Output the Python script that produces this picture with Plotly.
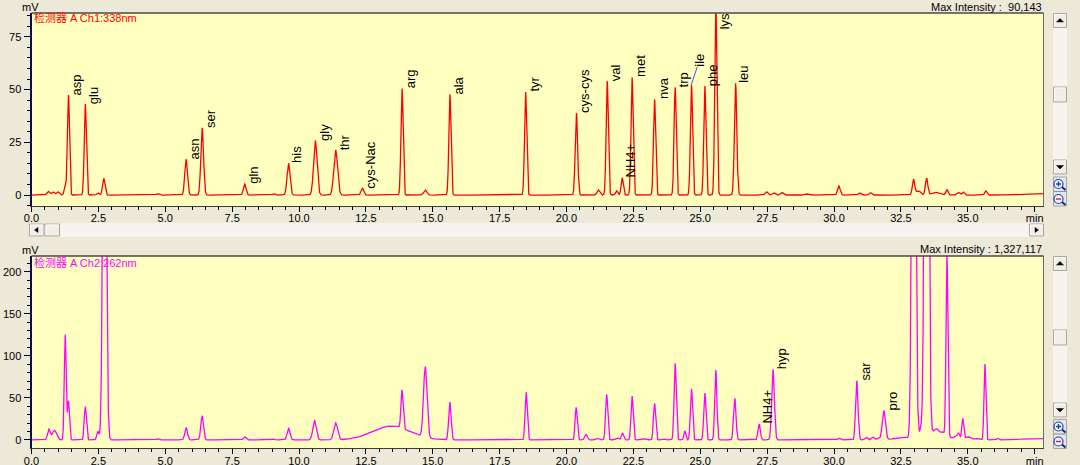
import numpy as np
import plotly.graph_objects as go

# ---------------- data ----------------
# Channel 1 : 338 nm  (retention time [min], height [mV], peak sigma [min], name)
ch1_rt = [0.62, 0.80, 0.98, 1.26, 1.38, 2.01, 2.48, 2.70, 4.72, 5.78, 6.38, 7.97, 9.05,
          9.61, 10.61, 11.37, 12.37, 13.85, 14.72, 15.64, 18.47, 20.37, 21.19, 21.52,
          21.87, 22.08, 22.45, 23.29, 24.06, 24.67, 25.17, 25.58, 26.32, 27.47, 27.75,
          28.05, 29.0, 30.18, 30.95, 31.35, 32.97, 33.15, 33.46, 33.8, 34.22, 34.65,
          34.83, 35.67, 37.6]
ch1_height = [1.8, 1.5, 1.6, 3.8, 47.4, 43.2, 1.0, 7.9, 0.6, 16.9, 31.9, 5.2, 0.6,
              15.0, 25.8, 21.3, 3.2, 50.6, 2.4, 47.8, 48.9, 38.9, 2.4, 54.0,
              2.0, 8.2, 55.8, 45.5, 51.1, 52.5, 51.7, 90.1, 53.0, 1.6, 1.0,
              1.2, 0.5, 4.3, 1.0, 1.2, 7.4, 2.0, 7.9, 1.3, 2.5, 1.2,
              1.5, 2.0, 0.8]
ch1_width = [0.05, 0.05, 0.05, 0.04, 0.038, 0.04, 0.04, 0.045, 0.05, 0.05, 0.05, 0.05, 0.05,
             0.055, 0.065, 0.07, 0.05, 0.04, 0.06, 0.04, 0.04, 0.045, 0.05, 0.04,
             0.04, 0.04, 0.04, 0.04, 0.04, 0.04, 0.04, 0.04, 0.045, 0.05, 0.05,
             0.05, 0.08, 0.05, 0.05, 0.05, 0.045, 0.08, 0.045, 0.15, 0.04, 0.05,
             0.04, 0.04, 0.5]
ch1_label = ["", "", "", "", "asp", "glu", "", "", "", "asn", "ser", "gln", "",
             "his", "gly", "thr", "cys-Nac", "arg", "", "ala", "tyr", "cys-cys", "", "val",
             "", "NH4+", "met", "nva", "trp", "ile", "phe", "lys", "leu", "", "",
             "", "", "", "", "", "", "", "", "", "", "",
             "", "", ""]

# Channel 2 : 262 nm
ch2_rt = [0.65, 0.86, 1.26, 1.38, 2.01, 2.48, 2.73, 4.72, 5.78, 6.38, 7.97, 9.05, 9.61,
          10.58, 11.37, 13.45, 13.85, 14.72, 15.64, 18.49, 20.36, 20.73, 21.15, 21.50,
          21.9, 22.09, 22.45, 22.9, 23.29, 23.6, 24.06, 24.42, 24.67, 25.17, 25.58,
          26.29, 27.2, 27.72, 30.18, 30.85, 31.2, 31.45, 31.65, 31.86, 32.45, 32.98,
          33.27, 33.46, 33.65, 33.83, 34.05, 34.22, 34.55, 34.66, 34.81, 35.0, 35.3,
          35.64, 36.11, 37.6]
ch2_height = [12.7, 11.5, 125.0, 46.3, 39.6, 10.3, 600.0, 1.5, 14.7, 28.5, 4.0, 1.0, 13.9,
              23.0, 20.2, 16.5, 45.5, 84.0, 44.8, 56.7, 38.8, 6.7, 2.0, 54.3,
              2.5, 8.0, 52.3, 1.5, 43.6, 1.5, 91.1, 10.7, 61.0, 55.9, 83.0,
              49.5, 19.0, 84.0, 2.0, 70.5, 3.0, 3.5, 2.5, 34.8, 2.5, 900.0,
              9.0, 1327.0, 10.0, 4.0, 3.0, 216.0, 4.0, 7.0, 25.0, 4.0, 2.0,
              90.3, 2.0, 2.0]
ch2_width = [0.05, 0.08, 0.035, 0.035, 0.04, 0.04, 0.06, 0.04, 0.05, 0.05, 0.05, 0.05, 0.055,
             0.065, 0.07, 0.7, 0.04, 0.065, 0.045, 0.04, 0.04, 0.05, 0.05, 0.04,
             0.05, 0.04, 0.04, 0.06, 0.04, 0.06, 0.04, 0.035, 0.04, 0.04, 0.04,
             0.045, 0.045, 0.05, 0.05, 0.045, 0.05, 0.05, 0.05, 0.06, 0.25, 0.06,
             0.05, 0.06, 0.45, 0.06, 0.06, 0.035, 0.05, 0.04, 0.035, 0.08, 0.1,
             0.035, 0.04, 0.5]
ch2_label = ["", "", "", "", "", "", "", "", "", "", "", "", "",
             "", "", "", "", "", "", "", "", "", "", "",
             "", "", "", "", "", "", "", "", "", "", "",
             "", "NH4+", "hyp", "", "sar", "", "", "", "pro", "", "",
             "", "", "", "", "", "", "", "", "", "", "",
             "", "", ""]

x_tick_vals = [0, 2.5, 5, 7.5, 10, 12.5, 15, 17.5, 20, 22.5, 25, 27.5, 30, 32.5, 35, 37.5]
x_tick_text = ["0.0", "2.5", "5.0", "7.5", "10.0", "12.5", "15.0", "17.5", "20.0",
               "22.5", "25.0", "27.5", "30.0", "32.5", "35.0", "min"]
y1_tick_vals = [0, 25, 50, 75]
y2_tick_vals = [0, 50, 100, 150, 200]

ch1_title = "检测器 A Ch1:338nm"
ch2_title = "检测器 A Ch2:262nm"
ch1_max = "Max Intensity :\u00a0\u00a090,143"
ch2_max = "Max Intensity : 1,327,117"

# ---------------- build ----------------
W, H = 1080, 465
FONT = "Liberation Sans, Arial, Noto Sans CJK SC, sans-serif"
RED = "#FF0000"
MAG = "#FF00FF"
BG = "#ECE9D8"
PLOT_BG = "#FFFFC0"

X_RANGE = [0.0, 37.83]
Y1_RANGE = [-5.2, 86.3]
Y2_RANGE = [-9.9, 218.6]

t = np.arange(0.0, 37.9, 0.004)


def chromatogram(rts, hs, ws):
    y = np.zeros_like(t)
    for r, h, w in zip(rts, hs, ws):
        y += h * np.exp(-0.5 * ((t - r) / w) ** 2)
    return y


def px(x):
    return x / W


def py(y):
    return 1 - y / H


fig = go.Figure()
fig.add_trace(go.Scatter(x=t, y=chromatogram(ch1_rt, ch1_height, ch1_width), mode="lines",
                         line=dict(color=RED, width=1.3), xaxis="x", yaxis="y",
                         hoverinfo="skip", showlegend=False))
fig.add_trace(go.Scatter(x=t, y=chromatogram(ch2_rt, ch2_height, ch2_width), mode="lines",
                         line=dict(color=MAG, width=1.3), xaxis="x2", yaxis="y2",
                         hoverinfo="skip", showlegend=False))

xdom = [px(31.5), px(1043.5)]
y1dom = [py(206), py(13)]
y2dom = [py(448.3), py(256)]

xcommon = dict(domain=xdom, range=X_RANGE, tickmode="array", tickvals=x_tick_vals,
               ticktext=x_tick_text, ticks="outside", ticklen=5, tickcolor="#000",
               minor=dict(ticks="outside", ticklen=3, tick0=0, dtick=0.5, tickcolor="#000"),
               showline=True, linecolor="#3A3A3A", linewidth=1, showgrid=False,
               zeroline=False, tickfont=dict(size=11, color="#000", family=FONT),
               ticklabelstandoff=-3, fixedrange=True, automargin=False)
ycommon = dict(tickmode="array", ticks="outside", ticklen=6, tickcolor="#000",
               showline=True, linecolor="#0B0B55", linewidth=2, showgrid=False,
               zeroline=False, tickfont=dict(size=11, color="#000", family=FONT),
               fixedrange=True, automargin=False)
fig.update_layout(
    xaxis=dict(anchor="y", **xcommon),
    xaxis2=dict(anchor="y2", **xcommon),
    yaxis=dict(domain=y1dom, range=Y1_RANGE, tickvals=y1_tick_vals, anchor="x",
               minor=dict(ticks="outside", ticklen=3, tick0=0, dtick=5, tickcolor="#000"),
               **ycommon),
    yaxis2=dict(domain=y2dom, range=Y2_RANGE, tickvals=y2_tick_vals, anchor="x2",
                minor=dict(ticks="outside", ticklen=3, tick0=0, dtick=10, tickcolor="#000"),
                **ycommon),
)

annotations = []


def add_labels(rts, hs, labels, xref, yref, yrange):
    for r, h, lab in zip(rts, hs, labels):
        if not lab:
            continue
        a = dict(text=lab, x=r, xref=xref, yref=yref, textangle=-90, showarrow=False,
                 font=dict(size=13, color="#000", family=FONT),
                 borderpad=0, borderwidth=0)
        if h >= yrange[1]:
            a.update(y=yrange[1], xanchor="left", yanchor="top", xshift=1)
        elif lab == "ile":
            a.update(y=h, showarrow=True, ax=8, ay=-24, arrowhead=0,
                     arrowwidth=1, arrowcolor="#4A4AFF", standoff=0, startstandoff=0,
                     xanchor="center", yanchor="middle")
        else:
            a.update(y=h, xanchor="left", yanchor="bottom", xshift=1)
        annotations.append(a)


add_labels(ch1_rt, ch1_height, ch1_label, "x", "y", Y1_RANGE)
add_labels(ch2_rt, ch2_height, ch2_label, "x2", "y2", Y2_RANGE)

small = dict(size=11, color="#000", family=FONT)
annotations += [
    dict(text="mV", x=px(30), y=py(7), xref="paper", yref="paper", showarrow=False,
         xanchor="center", yanchor="middle", font=small),
    dict(text="mV", x=px(30), y=py(250), xref="paper", yref="paper", showarrow=False,
         xanchor="center", yanchor="middle", font=small),
    dict(text=ch1_max, x=px(1044), y=py(6.5), xref="paper", yref="paper", showarrow=False,
         xanchor="right", yanchor="middle", font=small),
    dict(text=ch2_max, x=px(1044), y=py(249), xref="paper", yref="paper", showarrow=False,
         xanchor="right", yanchor="middle", font=small),
    dict(text=ch1_title, x=px(32), y=py(18), xref="paper", yref="paper", showarrow=False,
         xanchor="left", yanchor="middle", font=dict(size=11, color=RED, family=FONT)),
    dict(text=ch2_title, x=px(32), y=py(262), xref="paper", yref="paper", showarrow=False,
         xanchor="left", yanchor="middle", font=dict(size=11, color=MAG, family=FONT)),
]

# ---------------- decoration (borders, scrollbars, zoom icons) ----------------
shapes = []


def rect(x0, y0, x1, y1, fill, line=None, lw=1, layer="above"):
    shapes.append(dict(type="rect", xref="paper", yref="paper", x0=px(x0), x1=px(x1),
                       y0=py(y1), y1=py(y0), fillcolor=fill,
                       line=dict(color=line or fill, width=lw if line else 0), layer=layer))


def seg(x0, y0, x1, y1, color, lw=1):
    shapes.append(dict(type="line", xref="paper", yref="paper", x0=px(x0), x1=px(x1),
                       y0=py(y0), y1=py(y1), line=dict(color=color, width=lw), layer="above"))


def tri(pts, color="#000"):
    d = "M " + " L ".join(f"{px(a):.5f},{py(b):.5f}" for a, b in pts) + " Z"
    shapes.append(dict(type="path", xref="paper", yref="paper", path=d, fillcolor=color,
                       line=dict(color=color, width=0.5), layer="above"))


def button(x0, y0, x1, y1):
    rect(x0, y0, x1, y1, "#EFEEE8", "#A9A79B")
    seg(x0 + 1, y0 + 1, x1 - 1, y0 + 1, "#FFFFFF")
    seg(x0 + 1, y0 + 1, x0 + 1, y1 - 1, "#FFFFFF")


def circle(cx, cy, r, line, fill):
    shapes.append(dict(type="circle", xref="paper", yref="paper", x0=px(cx - r), x1=px(cx + r),
                       y0=py(cy + r), y1=py(cy - r), fillcolor=fill,
                       line=dict(color=line, width=1.2), layer="above"))


# plot borders (top & right)
for top, bottom in [(13, 206), (256, 448.3)]:
    seg(31.5, top, 1043.5, top, "#4A4A4A", 1.5)
    seg(1043.5, top, 1043.5, bottom, "#6A6A6A", 1)

# horizontal scrollbar of the upper chart
rect(29.5, 223, 1043.5, 237, "#F5F4EF")
button(29.5, 224, 44, 236)
tri([(34.5, 230), (38, 227.5), (38, 232.5)])
button(45, 224, 59.5, 236)
button(1029.5, 224, 1043.5, 236)
tri([(1038.5, 230), (1035, 227.5), (1035, 232.5)])

# vertical scrollbars + zoom icons
for (top, thumb, down, plus_c, minus_c) in [(13.5, 87, 160, 184, 199),
                                            (256.5, 330, 403, 426.5, 441.5)]:
    rect(1053, top, 1067, down + 14, "#F5F4EF")
    button(1053.5, top, 1066.5, top + 14)
    tri([(1060, top + 5), (1063.5, top + 8.5), (1056.5, top + 8.5)])
    button(1053.5, thumb, 1066.5, thumb + 15)
    button(1053.5, down, 1066.5, down + 14)
    tri([(1060, down + 9), (1063.5, down + 5.5), (1056.5, down + 5.5)])
    rect(1053.5, plus_c - 7, 1066.5, minus_c + 7, "#E4E6EE", "#A9A79B")
    seg(1053.5, (plus_c + minus_c) / 2, 1066.5, (plus_c + minus_c) / 2, "#8C8C9C")
    for cy, sym_col, plus in [(plus_c, "#1E3FA8", True), (minus_c, "#D02020", False)]:
        seg(1062, cy + 3, 1065.5, cy + 6, "#1A2A6A", 2)
        circle(1058.5, cy, 4.5, "#2444A8", "#EEF3FF")
        seg(1056, cy, 1061, cy, sym_col, 1.4)
        if plus:
            seg(1058.5, cy - 2.5, 1058.5, cy + 2.5, sym_col, 1.4)

fig.update_layout(
    width=W, height=H, margin=dict(l=0, r=0, t=0, b=0, autoexpand=False),
    paper_bgcolor=BG, plot_bgcolor=PLOT_BG,
    font=dict(family=FONT, size=11, color="#000"),
    annotations=annotations, shapes=shapes, showlegend=False,
)

fig.write_html("out.html", config={"displayModeBar": False},
               post_script="document.body.style.margin='0';document.body.style.padding='0';"
                           "document.body.style.overflow='hidden';"
                           "document.body.style.background='" + BG + "';")
